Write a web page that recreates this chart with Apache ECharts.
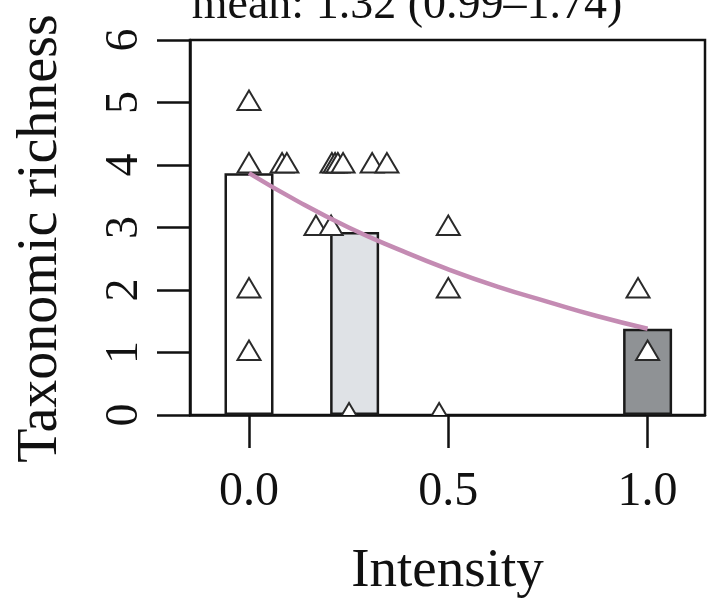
<!DOCTYPE html>
<html>
<head>
<meta charset="utf-8">
<script src="https://cdn.jsdelivr.net/npm/echarts@6/dist/echarts.min.js"></script>
<style>html,body{margin:0;padding:0;background:#fff}#c{width:708px;height:600px}</style>
</head>
<body>
<div id="c"></div>
<script>
// ---- data ----
const titleText = 'mean: 1.32 (0.99\u20131.74)';
const xTitle = 'Intensity';
const yTitle = 'Taxonomic richness';
const xTicks = [0, 0.5, 1.0];
const yTicks = [0, 1, 2, 3, 4, 5, 6];

const barX = [0, 0.265, 1.0];
const barY = [3.87, 2.93, 1.38];
const barColors = ['#ffffff', '#dfe2e6', '#8f9295'];

const pointX = [0, 0, 0, 0, 0.083, 0.095, 0.168, 0.206, 0.208, 0.216, 0.223, 0.236, 0.251, 0.309, 0.346, 0.477, 0.5, 0.5, 0.976, 1.0];
const pointY = [5, 4, 2, 1, 4, 4, 3, 3, 4, 4, 4, 4, 0, 4, 4, 0, 3, 2, 2, 1];

const curveX = [0, 0.125, 0.25, 0.375, 0.5, 0.625, 0.75, 0.875, 1.0];
const curveY = [3.87, 3.41, 3.00, 2.65, 2.33, 2.05, 1.81, 1.58, 1.38];

// ---- chart ----
const FONT = '"Liberation Serif", "DejaVu Serif", serif';
const chart = echarts.init(document.getElementById('c'), null, {renderer: 'canvas'});

const barData = barX.map((x, i) => ({
  value: [x, barY[i]],
  itemStyle: {color: barColors[i], borderColor: '#1a1a1a', borderWidth: 2.5}
}));
const pointData = pointX.map((x, i) => [x, pointY[i]]);
const curveData = curveX.map((x, i) => [x, curveY[i]]);

chart.setOption({
  animation: false,
  backgroundColor: '#ffffff',
  title: {
    text: titleText,
    left: 402, top: -22, textAlign: 'center',
    textStyle: {fontFamily: FONT, fontSize: 46, fontWeight: 'normal', color: '#111', lineHeight: 46}
  },
  grid: {
    left: 190, right: 3, top: 40, bottom: 185,
    outerBoundsMode: 'none', containLabel: false,
    show: true, borderColor: '#111', borderWidth: 2.5, backgroundColor: 'transparent'
  },
  xAxis: {
    type: 'value', min: -0.148, max: 1.144,
    name: xTitle, nameLocation: 'middle', nameGap: 129,
    nameTextStyle: {fontFamily: FONT, fontSize: 55, color: '#111', lineHeight: 55},
    axisLine: {show: true, onZero: false, lineStyle: {color: '#111', width: 2.5}},
    axisTick: {show: true, customValues: xTicks, length: 33, lineStyle: {color: '#111', width: 2.5}},
    axisLabel: {show: true, customValues: xTicks, margin: 53,
      formatter: v => v.toFixed(1),
      fontFamily: FONT, fontSize: 48, color: '#111', lineHeight: 48},
    splitLine: {show: false}
  },
  yAxis: {
    type: 'value', min: 0, max: 6, interval: 1,
    axisLine: {show: true, onZero: false, lineStyle: {color: '#111', width: 2.5}},
    axisTick: {show: true, length: 33, lineStyle: {color: '#111', width: 2.5}},
    axisLabel: {show: true, rotate: 90, margin: 42,
      fontFamily: FONT, fontSize: 46, color: '#111', lineHeight: 46},
    splitLine: {show: false},
    name: yTitle, nameLocation: 'middle', nameGap: 121, nameRotate: 90,
    nameTextStyle: {fontFamily: FONT, fontSize: 56, color: '#111', lineHeight: 56, padding: [0, 22, 0, 0]}
  },
  series: [
    {
      type: 'bar', data: barData, barWidth: 49, z: 1,
      emphasis: {disabled: true}
    },
    {
      type: 'custom', data: pointData, clip: true, z: 2,
      renderItem: function (params, api) {
        const p = api.coord([api.value(0), api.value(1)]);
        return {
          type: 'polygon',
          shape: {points: [[p[0], p[1] - 12], [p[0] + 11.5, p[1] + 7.5], [p[0] - 11.5, p[1] + 7.5]]},
          style: {fill: '#ffffff', stroke: '#2a2a2a', lineWidth: 2}
        };
      }
    },
    {
      type: 'line', data: curveData, smooth: true, showSymbol: false, z: 3,
      lineStyle: {color: '#c48bb3', width: 4.5}, clip: true
    }
  ]
});
</script>
</body>
</html>
